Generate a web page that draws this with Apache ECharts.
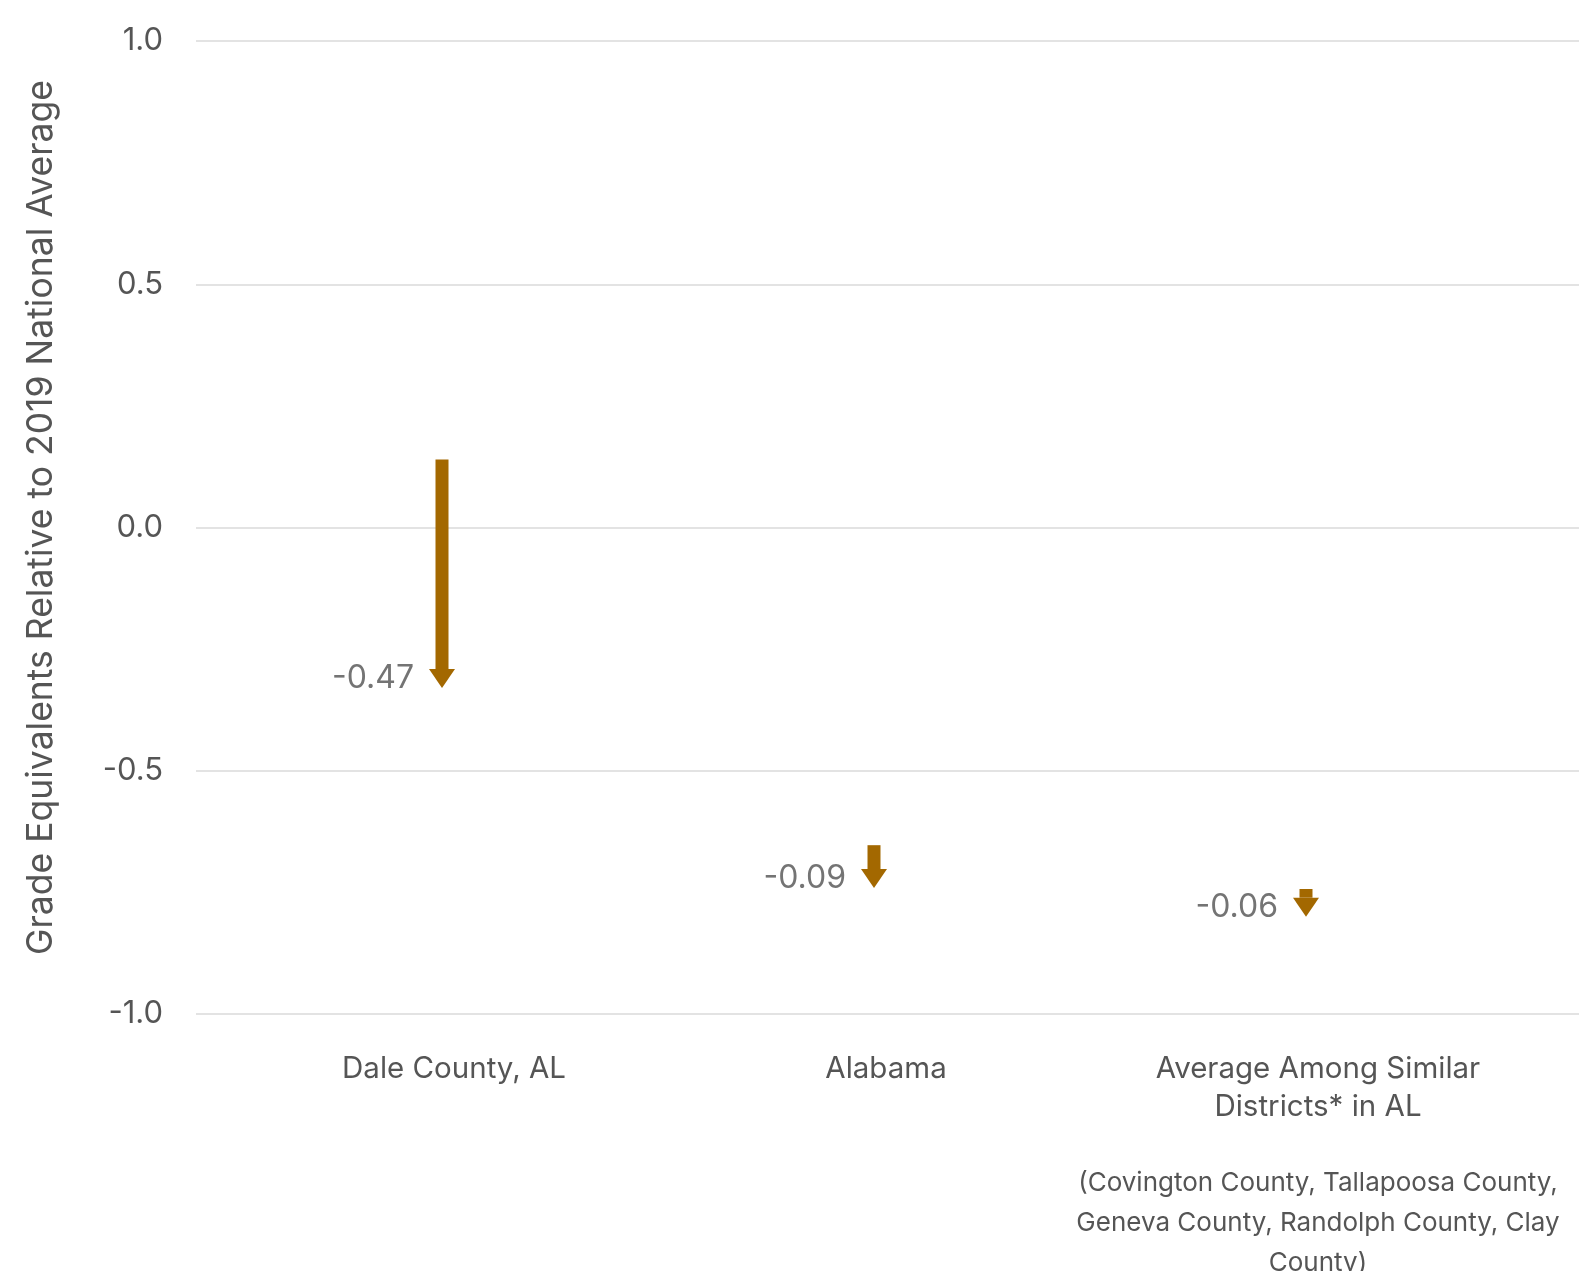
<!DOCTYPE html>
<html>
<head>
<meta charset="utf-8">
<script src="https://cdn.jsdelivr.net/npm/echarts@6/dist/echarts.min.js"></script>
<style>
html,body{margin:0;padding:0;background:#fff;}
#chart{width:1580px;height:1271px;}
</style>
</head>
<body>
<div id="chart"></div>
<script>
const categories = ["Dale County, AL", "Alabama", "Average Among Similar Districts* in AL"];
const categoryNotes = ["", "", "(Covington County, Tallapoosa County,\nGeneva County, Randolph County, Clay\nCounty)"];
const startValues = [0.14, -0.653, -0.743];
const endValues = [-0.33, -0.741, -0.80];
const changeLabels = ["-0.47", "-0.09", "-0.06"];
const yTicks = [-1.0, -0.5, 0.0, 0.5, 1.0];

const FONT = 'Inter, "Noto Sans", sans-serif';
const ARROW = '#a36800';

const data = categories.map((c, i) => [i, startValues[i], endValues[i]]);

const chart = echarts.init(document.getElementById('chart'), null, {renderer: 'canvas'});

function renderItem(params, api) {
  const idx = api.value(0);
  const s = api.coord([idx, api.value(1)]);
  const e = api.coord([idx, api.value(2)]);
  const x = s[0] - 12;
  const top = s[1];
  const tip = e[1];
  const headH = 19, headW = 26, shaftW = 13;
  const headTop = tip - headH;
  const children = [];
  if (headTop > top) {
    children.push({
      type: 'rect',
      shape: {x: x - shaftW / 2, y: top, width: shaftW, height: headTop - top},
      style: {fill: ARROW}
    });
  }
  children.push({
    type: 'polygon',
    shape: {points: [[x - headW / 2, headTop], [x + headW / 2, headTop], [x, tip]]},
    style: {fill: ARROW}
  });
  children.push({
    type: 'text',
    style: {
      x: x - 28, y: tip - 9.5,
      text: changeLabels[params.dataIndex],
      fill: '#747474',
      font: '32px ' + FONT,
      align: 'right', verticalAlign: 'middle'
    }
  });
  return {type: 'group', children: children};
}

const option = {
  backgroundColor: '#ffffff',
  animation: false,
  grid: [
    {left: 196, right: 1, top: 41, bottom: 257, containLabel: false, outerBoundsMode: 'none'},
    {left: 238, right: 46, top: 41, bottom: 257, containLabel: false, outerBoundsMode: 'none'}
  ],
  xAxis: [
    {gridIndex: 0, type: 'value', min: 0, max: 1, show: false},
    {
      gridIndex: 1, type: 'category', data: categories,
      axisLine: {show: false}, axisTick: {show: false}, splitLine: {show: false},
      axisLabel: {
        interval: 0, margin: 36,
        color: '#555555', fontFamily: FONT, fontSize: 29.5, lineHeight: 38,
        formatter: function (v, i) {
          if (i === 2) {
            return '{m|Average Among Similar}\n{m|Districts* in AL}\n{gap| }\n' +
              categoryNotes[2].split('\n').map(l => '{s|' + l + '}').join('\n');
          }
          return '{m|' + v + '}';
        },
        rich: {
          m: {fontFamily: FONT, fontSize: 29.5, lineHeight: 38, color: '#555555'},
          gap: {fontSize: 2, lineHeight: 37},
          s: {fontFamily: FONT, fontSize: 26, lineHeight: 40, color: '#555555'}
        }
      }
    }
  ],
  yAxis: [
    {
      gridIndex: 0, type: 'value', min: -1, max: 1, interval: 0.5,
      name: 'Grade Equivalents Relative to 2019 National Average',
      nameLocation: 'middle', nameGap: 137,
      nameTextStyle: {color: '#555555', fontFamily: FONT, fontSize: 35.5, padding: [0, 0, 0, 20]},
      axisLine: {show: false}, axisTick: {show: false},
      axisLabel: {
        margin: 33, color: '#555555', fontFamily: FONT, fontSize: 31,
        formatter: v => v.toFixed(1)
      },
      splitLine: {lineStyle: {color: '#e3e3e3', width: 2}}
    },
    {gridIndex: 1, type: 'value', min: -1, max: 1, interval: 0.5, show: false, splitLine: {show: false}}
  ],
  series: [{
    type: 'custom',
    xAxisIndex: 1, yAxisIndex: 1,
    renderItem: renderItem,
    encode: {x: 0, y: [1, 2]},
    data: data,
    clip: false
  }]
};
chart.setOption(option);
</script>
</body>
</html>
